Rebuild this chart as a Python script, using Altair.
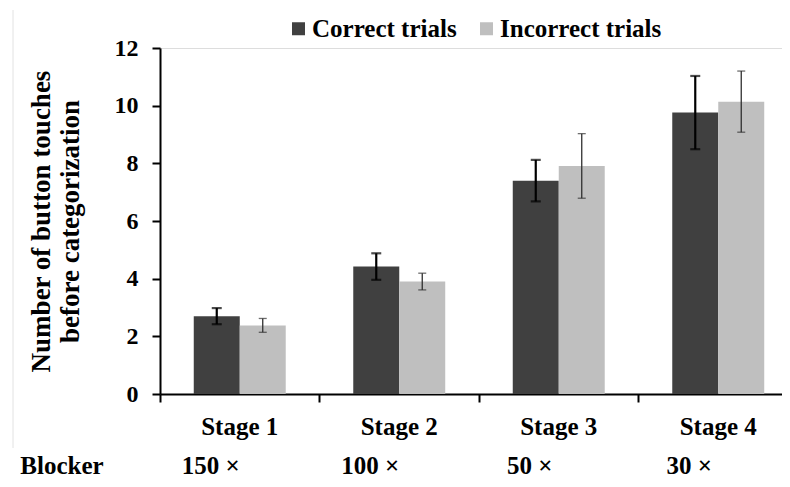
import altair as alt
import pandas as pd

stages = ["Stage 1", "Stage 2", "Stage 3", "Stage 4"]
groups = ["Correct trials", "Incorrect trials"]
correct_mean = [2.70, 4.42, 7.40, 9.76]
correct_err = [0.28, 0.46, 0.72, 1.27]
incorrect_mean = [2.38, 3.90, 7.91, 10.14]
incorrect_err = [0.24, 0.29, 1.12, 1.06]
blockers = ["150 \u00d7", "100 \u00d7", "50 \u00d7", "30 \u00d7"]
bar_colors = ["#404040", "#bfbfbf"]
err_colors = ["#000000", "#303030"]
err_widths = [2.2, 1.3]
cap_sizes = [10, 8]

rows = []
for g, means, errs in [(groups[0], correct_mean, correct_err), (groups[1], incorrect_mean, incorrect_err)]:
    for s, m, e in zip(stages, means, errs):
        rows.append({"Stage": s, "Group": g, "Mean": m, "Lo": m - e, "Hi": m + e})
df = pd.DataFrame(rows)
blk = pd.DataFrame({"Stage": stages, "Blocker": blockers})

FONT = "Liberation Serif"
PLOT_W = 622
PLOT_H = 346

x_enc = alt.X(
    "Stage:N",
    sort=stages,
    scale=alt.Scale(domain=stages, range=[0, 638], paddingInner=0, paddingOuter=0),
    axis=alt.Axis(
        title=None, bandPosition=0, tickSize=8, tickWidth=2,
        tickColor="black", domainColor="black", domainWidth=2, labelAngle=0,
        labelFont=FONT, labelFontSize=25, labelFontWeight="bold", labelColor="black",
        labelPadding=12,
    ),
)
xo_enc = alt.XOffset(
    "Group:N",
    sort=groups,
    scale=alt.Scale(domain=groups, paddingInner=0, paddingOuter=0.734),
)
y_scale = alt.Scale(domain=[0, 12], nice=False)

bars = alt.Chart(df).mark_bar().encode(
    x=x_enc,
    xOffset=xo_enc,
    y=alt.Y(
        "Mean:Q",
        scale=y_scale,
        axis=alt.Axis(
            title=["Number of button touches", "before categorization"],
            values=[0, 2, 4, 6, 8, 10, 12], grid=False, tickSize=8, tickWidth=2,
            tickColor="black", domainColor="black", domainWidth=2,
            labelFont=FONT, labelFontSize=24, labelFontWeight="bold", labelColor="black",
            labelPadding=14, titleFont=FONT, titleFontSize=27, titleFontWeight="bold",
            titleColor="black", titleLineHeight=29, titlePadding=30,
        ),
    ),
    color=alt.Color(
        "Group:N",
        sort=groups,
        scale=alt.Scale(domain=groups, range=bar_colors),
        legend=alt.Legend(
            title=None, orient="none", direction="horizontal", legendX=126, legendY=-32,
            symbolType="square", symbolSize=169, symbolStrokeWidth=0,
            labelFont=FONT, labelFontSize=25, labelFontWeight="bold", labelColor="black",
            labelOffset=1, columnPadding=17, labelLimit=400, padding=0,
        ),
    ),
)

layers = [bars]
for g, col, w, cs in zip(groups, err_colors, err_widths, cap_sizes):
    base = alt.Chart(df).transform_filter(alt.datum.Group == g)
    rule = base.mark_rule(color=col, strokeWidth=w).encode(
        x=alt.X("Stage:N", sort=stages), xOffset=xo_enc,
        y=alt.Y("Lo:Q", scale=y_scale), y2="Hi:Q",
    )
    cap_lo = base.mark_tick(color=col, thickness=w, size=cs).encode(
        x=alt.X("Stage:N", sort=stages), xOffset=xo_enc, y=alt.Y("Lo:Q", scale=y_scale),
    )
    cap_hi = base.mark_tick(color=col, thickness=w, size=cs).encode(
        x=alt.X("Stage:N", sort=stages), xOffset=xo_enc, y=alt.Y("Hi:Q", scale=y_scale),
    )
    layers += [rule, cap_lo, cap_hi]

blk_text = alt.Chart(blk).mark_text(
    font=FONT, fontSize=25, fontWeight="bold", color="black", dx=-29, baseline="alphabetic",
).encode(
    x=alt.X("Stage:N", sort=stages),
    y=alt.value(PLOT_H + 80),
    text="Blocker:N",
)
blk_title = alt.Chart(pd.DataFrame({"t": ["Blocker"]})).mark_text(
    font=FONT, fontSize=25, fontWeight="bold", color="black", baseline="alphabetic",
).encode(x=alt.value(-98), y=alt.value(PLOT_H + 80), text="t:N")

edge = alt.Chart(pd.DataFrame({"a": [0]})).mark_rule(color="#e2e2e2", strokeWidth=1).encode(
    x=alt.value(-147), y=alt.value(-38), y2=alt.value(PLOT_H + 54),
)

chart = alt.layer(edge, *layers, blk_text, blk_title).properties(
    width=PLOT_W, height=PLOT_H,
    autosize=alt.AutoSizeParams(type="none"),
    padding={"left": 152, "top": 40, "right": 0, "bottom": 85},
).configure_view(stroke=None).configure(background="white")

chart.save("out.html", embed_options={"renderer": "svg", "actions": False})
